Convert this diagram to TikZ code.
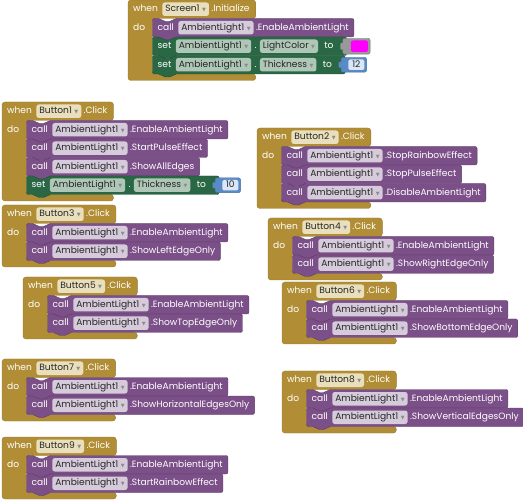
\documentclass[tikz,border=0pt]{standalone}
\usepackage{fontspec}
\setmainfont{Poppins}
\newfontfamily\symfont{DejaVu Sans}
\usetikzlibrary{calc}
\pgfdeclarelayer{goldl}
\pgfdeclarelayer{stmtl}
\pgfsetlayers{goldl,stmtl,main}
\definecolor{evgold}{HTML}{B18E35}
\definecolor{evfield}{HTML}{E9DFBC}
\definecolor{callpur}{HTML}{7B4F87}
\definecolor{callfield}{HTML}{D6CBDA}
\definecolor{setgrn}{HTML}{2A6845}
\definecolor{setfield}{HTML}{AFC7B6}
\definecolor{numblue}{HTML}{5A8AC6}
\definecolor{numfield}{HTML}{DAE7F6}
\definecolor{colframe}{HTML}{999999}
\definecolor{magcol}{HTML}{FF00FF}
\newcommand\dd{\hspace{2.5pt}{\symfont\fontsize{5}{5}\selectfont\textcolor{white!55!black}{▼}}}
\newcommand\txtfont{\fontsize{9.1}{10}\selectfont}
\tikzset{
  kw/.style={text=white, font=\txtfont, inner sep=0pt, text height=6.8pt, text depth=2pt},
  fbase/.style={rounded corners=2.5pt, inner xsep=3pt, inner ysep=0pt, minimum height=13.5pt,
    text=black!85, font=\txtfont, text height=6.8pt, text depth=2pt},
  hfield/.style={fbase, fill=evfield},
  cfield/.style={fbase, fill=callfield},
  gfield/.style={fbase, fill=setfield},
  numf/.style={fbase, fill=numfield, minimum height=10.5pt, inner xsep=2.5pt, rounded corners=1.5pt},
  evshape/.style={fill=evgold, draw=evgold!85!black, line width=0.4pt, rounded corners=3pt},
  callshape/.style={fill=callpur, draw=callpur!75!black, line width=0.4pt, rounded corners=2pt},
  setshape/.style={fill=setgrn, draw=setgrn!75!black, line width=0.4pt, rounded corners=2pt},
}
% statement outline: style, x, y, right coordinate
\newcommand\stmtshape[4]{%
  \path[#1] (#2,#3) -- (#2+8,#3) -- (#2+11,#3+3) -- (#2+19,#3+3) -- (#2+22,#3)
    -- (#4 |- 0,#3) -- (#4 |- 0,#3+18.5) -- (#2+22,#3+18.5) -- (#2+19,#3+21.5)
    -- (#2+11,#3+21.5) -- (#2+8,#3+18.5) -- (#2,#3+18.5) -- cycle;}
% event block: name, x, y, component, event, number of rows
\newcommand\evblock[6]{%
  \node[kw,anchor=west] (#1w) at (#2+5,#3+9.25) {when};
  \node[hfield,anchor=west] (#1c) at ([xshift=4pt]#1w.east) {#4\dd};
  \node[kw,anchor=west] (#1e) at ([xshift=2pt]#1c.east) {#5};
  \node[kw,anchor=west] (#1d) at (#2+5,#3+27.75) {do};
  \coordinate (#1r) at ([xshift=6pt]#1e.east);
  \pgfmathsetmacro\evsb{#3+18.5+18.5*#6}%
  \begin{pgfonlayer}{goldl}
    \path[evshape] (#2,#3) -- (#1r |- 0,#3) -- (#1r |- 0,#3+18.5) -- (#2+24.5,#3+18.5)
      -- (#2+24.5,\evsb) -- (#1r |- 0,\evsb) -- (#1r |- 0,\evsb+6.5) -- (#2,\evsb+6.5) -- cycle;
  \end{pgfonlayer}}
% call row: name, x, y, method
\newcommand\callrow[4]{%
  \node[kw,anchor=west] (#1k) at (#2+5,#3+9.25) {call};
  \node[cfield,anchor=west] (#1f) at ([xshift=4pt]#1k.east) {AmbientLight1\dd};
  \node[kw,anchor=west] (#1m) at ([xshift=2pt]#1f.east) {#4};
  \coordinate (#1r) at ([xshift=5pt]#1m.east);
  \begin{pgfonlayer}{stmtl}\stmtshape{callshape}{#2}{#3}{#1r}\end{pgfonlayer}}
% set row head: name, x, y, property
\newcommand\sethead[4]{%
  \node[kw,anchor=west] (#1k) at (#2+5,#3+9.25) {set};
  \node[gfield,anchor=west] (#1f) at ([xshift=4pt]#1k.east) {AmbientLight1\dd};
  \node[kw,anchor=west] (#1p) at ([xshift=3pt]#1f.east) {.};
  \node[gfield,anchor=west] (#1q) at ([xshift=3pt]#1p.east) {#4\dd};
  \node[kw,anchor=west] (#1t) at ([xshift=6pt]#1q.east) {to};
  \coordinate (#1v) at ([xshift=9pt]#1t.east);
  \coordinate (#1r) at ([xshift=4pt]#1v);
  \begin{pgfonlayer}{stmtl}\stmtshape{setshape}{#2}{#3}{#1r}\end{pgfonlayer}}
% set row with number
\newcommand\setnum[5]{%
  \sethead{#1}{#2}{#3}{#4}%
  \node[numf,anchor=west,minimum width=16pt] (#1n) at ([xshift=7pt]#1v) {#5};
  \begin{pgfonlayer}{stmtl}
    \path[fill=numblue, draw=numblue!80!black, line width=0.4pt, rounded corners=2pt]
      ([shift={(-7pt,2pt)}]#1n.north west) rectangle ([shift={(2pt,-2pt)}]#1n.south east);
    \path[fill=numblue, rounded corners=1pt]
      ([shift={(-9.5pt,-2.5pt)}]#1n.north west) rectangle ([shift={(-6pt,2.5pt)}]#1n.south west);
  \end{pgfonlayer}}
% set row with colour
\newcommand\setcol[4]{%
  \sethead{#1}{#2}{#3}{#4}%
  \node[fill=magcol, rounded corners=2pt, minimum width=17pt, minimum height=11.5pt, inner sep=0pt,
    anchor=west] (#1n) at ([xshift=8pt]#1v) {};
  \begin{pgfonlayer}{stmtl}
    \path[fill=colframe, draw=colframe!80!black, line width=0.4pt, rounded corners=2pt]
      ([shift={(-8pt,2pt)}]#1n.north west) rectangle ([shift={(2pt,-2pt)}]#1n.south east);
    \path[fill=colframe, rounded corners=1pt]
      ([shift={(-10.5pt,-2.5pt)}]#1n.north west) rectangle ([shift={(-7pt,2.5pt)}]#1n.south west);
  \end{pgfonlayer}}
\begin{document}
\begin{tikzpicture}[x=1pt,y=-1pt]
\useasboundingbox (0,0) rectangle (523,500);
% Screen1.Initialize
\evblock{S}{128}{0}{Screen1}{.Initialize}{3}
\callrow{Sa}{152.5}{18.5}{.EnableAmbientLight}
\setcol{Sb}{152.5}{37}{LightColor}
\setnum{Sc}{152.5}{55.5}{Thickness}{12}
% Button1
\evblock{A}{2}{102}{Button1}{.Click}{4}
\callrow{Aa}{26.5}{120.5}{.EnableAmbientLight}
\callrow{Ab}{26.5}{139}{.StartPulseEffect}
\callrow{Ac}{26.5}{157.5}{.ShowAllEdges}
\setnum{Ad}{26.5}{176}{Thickness}{10}
% Button2
\evblock{B}{257}{128}{Button2}{.Click}{3}
\callrow{Ba}{281.5}{146.5}{.StopRainbowEffect}
\callrow{Bb}{281.5}{165}{.StopPulseEffect}
\callrow{Bc}{281.5}{183.5}{.DisableAmbientLight}
% Button3
\evblock{C}{2}{205}{Button3}{.Click}{2}
\callrow{Ca}{26.5}{223.5}{.EnableAmbientLight}
\callrow{Cb}{26.5}{242}{.ShowLeftEdgeOnly}
% Button4
\evblock{D}{268}{218}{Button4}{.Click}{2}
\callrow{Da}{292.5}{236.5}{.EnableAmbientLight}
\callrow{Db}{292.5}{255}{.ShowRightEdgeOnly}
% Button5
\evblock{E}{23}{277}{Button5}{.Click}{2}
\callrow{Ea}{47.5}{295.5}{.EnableAmbientLight}
\callrow{Eb}{47.5}{314}{.ShowTopEdgeOnly}
% Button6
\evblock{F}{282}{282}{Button6}{.Click}{2}
\callrow{Fa}{306.5}{300.5}{.EnableAmbientLight}
\callrow{Fb}{306.5}{319}{.ShowBottomEdgeOnly}
% Button7
\evblock{G}{2}{359}{Button7}{.Click}{2}
\callrow{Ga}{26.5}{377.5}{.EnableAmbientLight}
\callrow{Gb}{26.5}{396}{.ShowHorizontalEdgesOnly}
% Button8
\evblock{H}{282}{371}{Button8}{.Click}{2}
\callrow{Ha}{306.5}{389.5}{.EnableAmbientLight}
\callrow{Hb}{306.5}{408}{.ShowVerticalEdgesOnly}
% Button9
\evblock{I}{2}{437}{Button9}{.Click}{2}
\callrow{Ia}{26.5}{455.5}{.EnableAmbientLight}
\callrow{Ib}{26.5}{474}{.StartRainbowEffect}
\end{tikzpicture}
\end{document}
